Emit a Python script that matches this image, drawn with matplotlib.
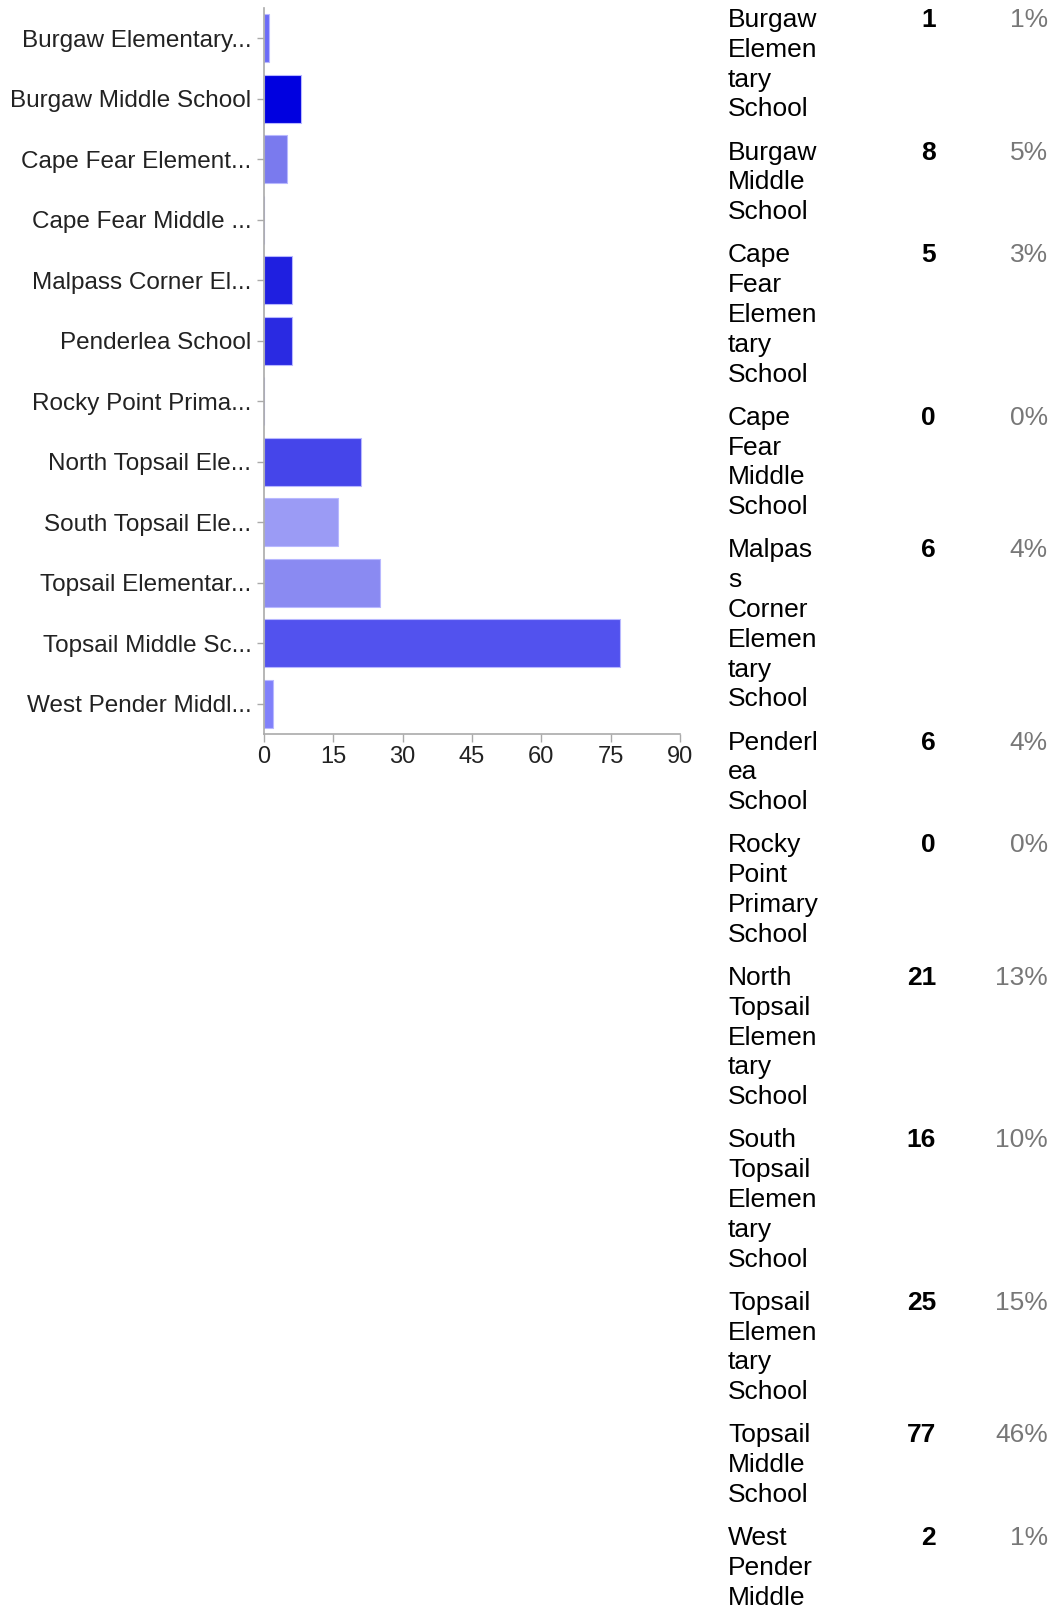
import matplotlib
matplotlib.use("Agg")
import matplotlib.pyplot as plt

plt.rcParams['font.family'] = ['Liberation Sans', 'DejaVu Sans']

# chart data
tick_labels = [
    "Burgaw Elementary...", "Burgaw Middle School", "Cape Fear Element...",
    "Cape Fear Middle ...", "Malpass Corner El...", "Penderlea School",
    "Rocky Point Prima...", "North Topsail Ele...", "South Topsail Ele...",
    "Topsail Elementar...", "Topsail Middle Sc...", "West Pender Middl...",
]
counts = [1, 8, 5, 0, 6, 6, 0, 21, 16, 25, 77, 2]
bar_colors = [
    "#6b6bf7", "#0000e0", "#7a7aee", "#6060ee", "#1f1fe0", "#2a2ae2",
    "#6060ee", "#4545ea", "#9b9bf5", "#8a8af2", "#5252ee", "#8080fa",
]
x_ticks = [0, 15, 30, 45, 60, 75, 90]

# right-hand table: wrapped names as they appear
table_names = [
    ["Burgaw", "Elemen", "tary", "School"],
    ["Burgaw", "Middle", "School"],
    ["Cape", "Fear", "Elemen", "tary", "School"],
    ["Cape", "Fear", "Middle", "School"],
    ["Malpas", "s", "Corner", "Elemen", "tary", "School"],
    ["Penderl", "ea", "School"],
    ["Rocky", "Point", "Primary", "School"],
    ["North", "Topsail", "Elemen", "tary", "School"],
    ["South", "Topsail", "Elemen", "tary", "School"],
    ["Topsail", "Elemen", "tary", "School"],
    ["Topsail", "Middle", "School"],
    ["West", "Pender", "Middle", "School"],
]
total = sum(counts)
percents = ["%d%%" % round(100 * c / total) for c in counts]

W, H = 1053, 1607
fig = plt.figure(figsize=(W / 100, H / 100), dpi=100)

ax = fig.add_axes([264 / W, 1 - 734 / H, 416 / W, 726 / H])
pos = list(range(len(counts)))
ax.barh(pos, counts, height=0.8, color=bar_colors,
        edgecolor="#b8b8ff", linewidth=0.8)
ax.set_ylim(len(counts) - 0.5, -0.5)
ax.set_xlim(0, 90)
ax.set_xticks(x_ticks)
ax.set_yticks(pos)
ax.set_yticklabels(tick_labels, fontsize=17.5, color="#222222")
ax.tick_params(axis="x", labelsize=17, labelcolor="#222222",
               color="#aaaaaa", length=6, width=1, pad=3)
ax.tick_params(axis="y", color="#aaaaaa", length=5, width=1, pad=4)
for s in ["top", "right"]:
    ax.spines[s].set_visible(False)
for s in ["left", "bottom"]:
    ax.spines[s].set_color("#aaaaaa")
    ax.spines[s].set_linewidth(1.2)

# table text, laid out in pixel rows
line_h = 29.8
gap = 13.4
y = 20.0
for names, c, p in zip(table_names, counts, percents):
    fig.text(936 / W, 1 - y / H, str(c), ha="right", va="center",
             fontsize=19, fontweight="bold", color="#000000")
    fig.text(1048 / W, 1 - y / H, p, ha="right", va="center",
             fontsize=19, color="#777777")
    for i, line in enumerate(names):
        fig.text(728 / W, 1 - (y + i * line_h) / H, line, ha="left",
                 va="center", fontsize=19, color="#000000")
    y += len(names) * line_h + gap

fig.savefig("out.png", dpi=100)
